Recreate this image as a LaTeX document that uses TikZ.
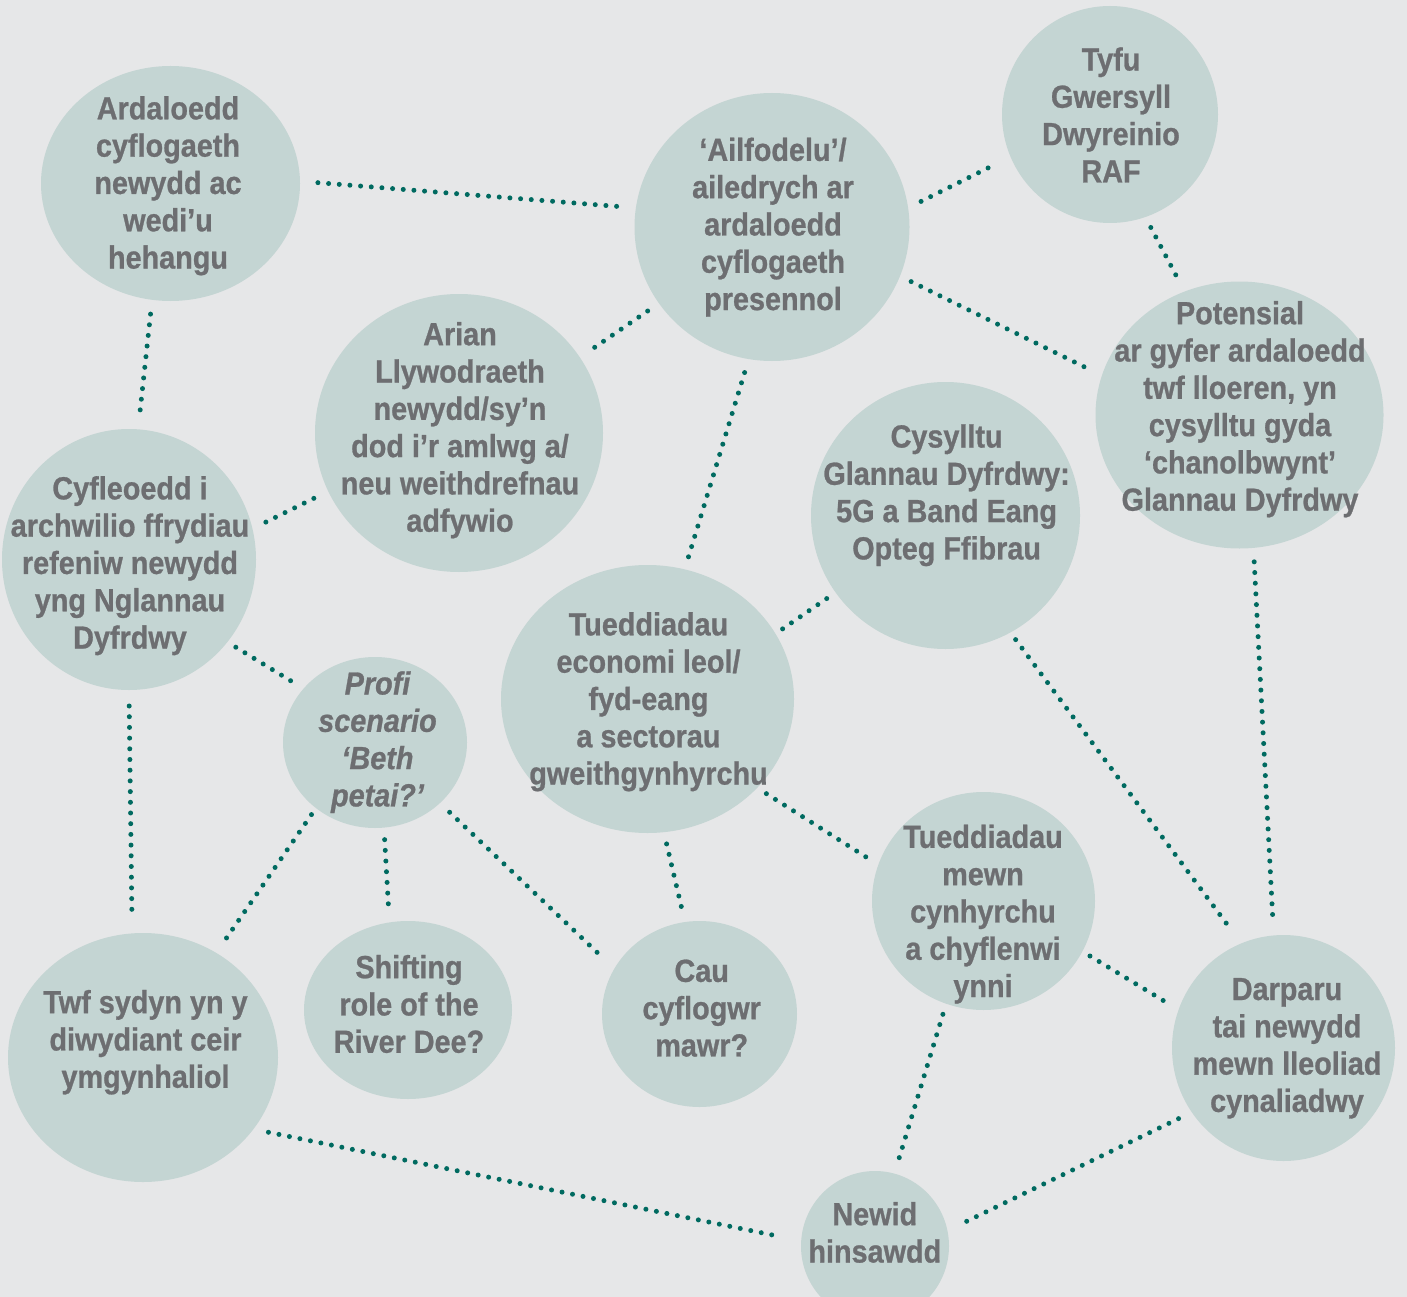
\documentclass[tikz,border=0pt]{standalone}
\usepackage{fontspec}
\setmainfont{Liberation Sans}[FakeStretch=0.9, BoldFeatures={FakeBold=0.8}, BoldItalicFeatures={FakeBold=0.8}]
\usetikzlibrary{shapes.geometric}
\definecolor{bgc}{HTML}{E6E7E8}
\definecolor{bubc}{HTML}{C4D5D3}
\definecolor{txtc}{HTML}{6D6E71}
\definecolor{dotc}{HTML}{006A60}
\begin{document}
\begin{tikzpicture}[x=1pt,y=-1pt,
  bub/.style={ellipse, fill=bubc, draw=none, inner sep=0pt, outer sep=0pt},
  lbl/.style={align=center, text=txtc, inner sep=0pt, font=\bfseries\fontsize{32}{37.3}\selectfont},
  link/.style={draw=dotc, line width=5pt, line cap=round, dash pattern=on 0pt off 10.7pt}]
\useasboundingbox (0,0) rectangle (1407,1297);
\clip (0,0) rectangle (1407,1297);
\fill[bgc] (0,0) rectangle (1407,1297);

% bubbles
\node[bub, minimum width=259pt, minimum height=235pt] (ardal) at (170.5,183.5) {};
\node[bub, minimum width=275pt, minimum height=268pt] (ailf) at (772,227) {};
\node[bub, minimum width=216pt, minimum height=217pt] (tyfu) at (1110,114.5) {};
\node[bub, minimum width=288pt, minimum height=278pt] (arian) at (459,433) {};
\node[bub, minimum width=288pt, minimum height=267pt] (poten) at (1239.5,415) {};
\node[bub, minimum width=269pt, minimum height=267pt] (cysyl) at (945.5,515.5) {};
\node[bub, minimum width=254pt, minimum height=261pt] (cyfle) at (129,559.5) {};
\node[bub, minimum width=293pt, minimum height=268pt] (tuedE) at (647.5,699) {};
\node[bub, minimum width=184pt, minimum height=171pt] (profi) at (375,742.5) {};
\node[bub, minimum width=223pt, minimum height=218pt] (tuedY) at (983.5,901) {};
\node[bub, minimum width=270pt, minimum height=249pt] (twf) at (143,1057.5) {};
\node[bub, minimum width=208pt, minimum height=178pt] (shift) at (408,1010) {};
\node[bub, minimum width=195pt, minimum height=186pt] (cau) at (699.5,1014) {};
\node[bub, minimum width=223pt, minimum height=226pt] (darp) at (1283.5,1048) {};
\node[bub, minimum width=148pt, minimum height=150pt] (newid) at (875,1246) {};

% connectors
\draw[link, shorten <=18pt, shorten >=19pt] (ardal.1) -- (ailf.172);
\draw[link, shorten <=14.5pt, shorten >=19.8pt] (ailf.8) -- (tyfu.203);
\draw[link, shorten <=11.8pt, shorten >=16pt] (tyfu.289) -- (poten.114);
\draw[link, shorten <=12.5pt, shorten >=17.9pt] (ailf.339) -- (poten.164);
\draw[link, shorten <=13.7pt, shorten >=12.5pt] (ailf.214) -- (arian.32);
\draw[link, shorten <=14.1pt, shorten >=11.8pt] (ailf.260) -- (tuedE.74);
\draw[link, shorten <=14.4pt, shorten >=17.5pt] (ardal.261) -- (cyfle.86);
\draw[link, shorten <=16.1pt, shorten >=14.1pt] (arian.204) -- (cyfle.14);
\draw[link, shorten <=10.8pt, shorten >=8.5pt] (cysyl.215) -- (tuedE.27);
\draw[link, shorten <=8.9pt, shorten >=20.5pt] (cysyl.299) -- (darp.112);
\draw[link, shorten <=14pt, shorten >=20.4pt] (poten.276) -- (darp.95);
\draw[link, shorten <=9.9pt, shorten >=13.9pt] (cyfle.320) -- (profi.143);
\draw[link, shorten <=16pt, shorten >=18.3pt] (cyfle.270) -- (twf.95);
\draw[link, shorten <=7.9pt, shorten >=16.4pt] (profi.228) -- (twf.55);
\draw[link, shorten <=12.1pt, shorten >=13.5pt] (profi.276) -- (shift.102);
\draw[link, shorten <=13.4pt, shorten >=23.6pt] (profi.317) -- (cau.152);
\draw[link, shorten <=12.1pt, shorten >=10.3pt] (tuedE.277) -- (cau.99);
\draw[link, shorten <=10.9pt, shorten >=9.1pt] (tuedE.321) -- (tuedY.161);
\draw[link, shorten <=8.9pt, shorten >=15.8pt] (tuedY.333) -- (darp.160);
\draw[link, shorten <=11.1pt, shorten >=16.2pt] (tuedY.250) -- (newid.75);
\draw[link, shorten <=15.4pt, shorten >=20.5pt] (twf.327) -- (newid.176);
\draw[link, shorten <=14.7pt, shorten >=19.5pt] (darp.215) -- (newid.12);

% labels
\node[lbl] (tardal) at (168,186.5) {\strut Ardaloedd\\\strut cyflogaeth\\\strut newydd ac\\\strut wedi’u\\\strut hehangu};
\node[lbl] (tailf) at (773,228) {\strut ‘Ailfodelu’/\\\strut ailedrych ar\\\strut ardaloedd\\\strut cyflogaeth\\\strut presennol};
\node[lbl] (ttyfu) at (1111,119) {\strut Tyfu\\\strut Gwersyll\\\strut Dwyreinio\\\strut RAF};
\node[lbl] (tarian) at (460,431) {\strut Arian\\\strut Llywodraeth\\\strut newydd/sy’n\\\strut dod i’r amlwg a/\\\strut neu weithdrefnau\\\strut adfywio};
\node[lbl] (tpoten) at (1240,410) {\strut Potensial\\\strut ar gyfer ardaloedd\\\strut twf lloeren, yn\\\strut cysylltu gyda\\\strut ‘chanolbwynt’\\\strut Glannau Dyfrdwy};
\node[lbl] (tcysyl) at (946.6,496) {\strut Cysylltu\\\strut Glannau Dyfrdwy:\\\strut 5G a Band Eang\\\strut Opteg Ffibrau};
\node[lbl] (tcyfle) at (130,566.5) {\strut Cyfleoedd i\\\strut archwilio ffrydiau\\\strut refeniw newydd\\\strut yng Nglannau\\\strut Dyfrdwy};
\node[lbl] (ttuedE) at (648.5,702.5) {\strut Tueddiadau\\\strut economi leol/\\\strut fyd-eang\\\strut a sectorau\\\strut gweithgynhyrchu};
\node[lbl, font=\bfseries\itshape\fontsize{32}{37.3}\selectfont] (tprofi) at (377.5,743) {\strut Profi\\\strut scenario\\\strut ‘Beth\\\strut petai?’};
\node[lbl] (ttuedY) at (983,915) {\strut Tueddiadau\\\strut mewn\\\strut cynhyrchu\\\strut a chyflenwi\\\strut ynni};
\node[lbl] (ttwf) at (145.5,1043) {\strut Twf sydyn yn y\\\strut diwydiant ceir\\\strut ymgynhaliol};
\node[lbl] (tshift) at (409,1008) {\strut Shifting\\\strut role of the\\\strut River Dee?};
\node[lbl] (tcau) at (701.7,1011.7) {\strut Cau\\\strut cyflogwr\\\strut mawr?};
\node[lbl] (tdarp) at (1287,1048.5) {\strut Darparu\\\strut tai newydd\\\strut mewn lleoliad\\\strut cynaliadwy};
\node[lbl] (tnewid) at (874.8,1236.4) {\strut Newid\\\strut hinsawdd};
\end{tikzpicture}
\end{document}
